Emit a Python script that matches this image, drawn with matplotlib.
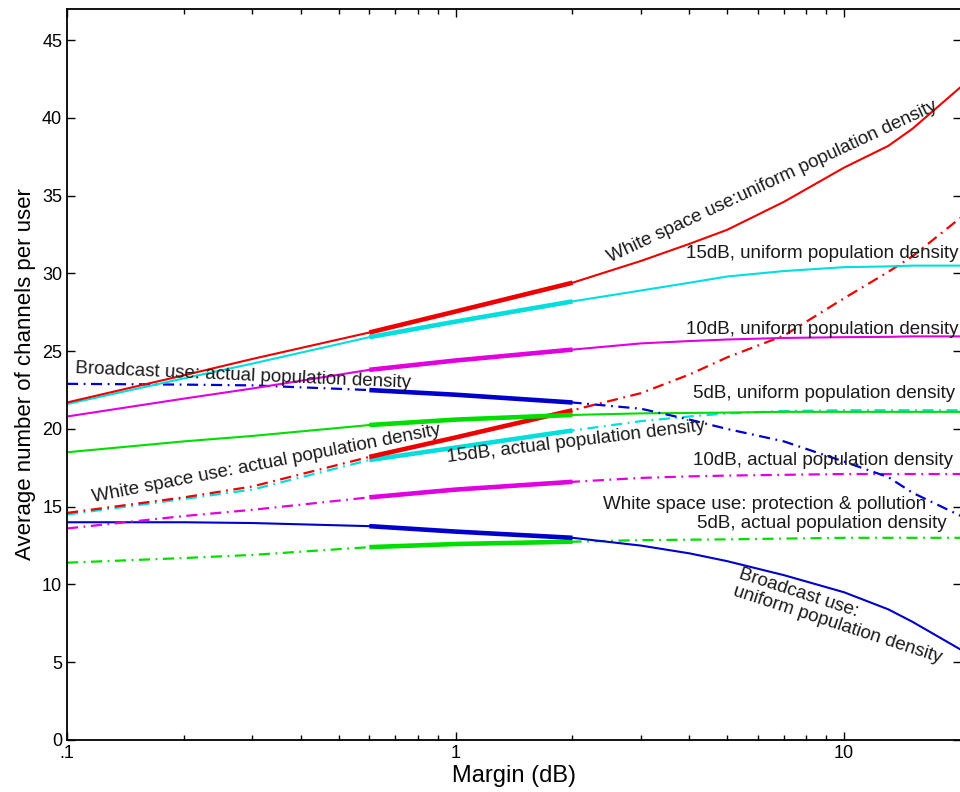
import numpy as np
import matplotlib
matplotlib.use("Agg")
import matplotlib.pyplot as plt
from matplotlib.ticker import FixedLocator, FixedFormatter, NullFormatter

plt.rcParams['font.family'] = ['Liberation Sans', 'DejaVu Sans']

# ---- data ----
margin = [0.1, 0.2, 0.3, 0.6, 1, 2, 3, 4, 5, 7, 10, 13, 15, 20]

ws_uniform      = [21.7, 23.45, 24.5, 26.2, 27.55, 29.4, 30.8, 31.9, 32.8, 34.6, 36.8, 38.2, 39.3, 42.0]
db15_uniform    = [21.6, 23.25, 24.2, 25.9, 26.9, 28.2, 28.9, 29.4, 29.8, 30.15, 30.4, 30.45, 30.5, 30.5]
db10_uniform    = [20.8, 21.95, 22.6, 23.8, 24.4, 25.1, 25.5, 25.65, 25.75, 25.85, 25.9, 25.92, 25.95, 25.95]
db5_uniform     = [18.5, 19.2, 19.55, 20.25, 20.6, 20.9, 21.0, 21.03, 21.05, 21.1, 21.1, 21.1, 21.1, 21.1]
bc_actual       = [22.9, 22.85, 22.8, 22.5, 22.2, 21.7, 21.3, 20.6, 20.0, 19.2, 17.9, 16.9, 15.9, 14.4]
ws_actual       = [14.6, 15.6, 16.3, 18.2, 19.45, 21.2, 22.3, 23.5, 24.6, 26.0, 28.4, 30.1, 31.1, 33.6]
db15_actual     = [14.5, 15.5, 16.1, 18.0, 18.8, 19.9, 20.5, 20.8, 21.0, 21.15, 21.2, 21.2, 21.2, 21.2]
db10_actual     = [13.6, 14.4, 14.8, 15.6, 16.1, 16.6, 16.85, 16.95, 17.0, 17.05, 17.1, 17.1, 17.1, 17.1]
bc_uniform      = [14.0, 14.0, 13.95, 13.75, 13.4, 13.0, 12.5, 12.0, 11.5, 10.6, 9.5, 8.4, 7.6, 5.8]
db5_actual      = [11.4, 11.7, 11.9, 12.4, 12.6, 12.75, 12.85, 12.88, 12.9, 12.95, 13.0, 13.0, 13.0, 13.0]

x_ticks = [0.1, 1, 10]
x_ticklabels = ['.1', '1', '10']
y_ticks = [0, 5, 10, 15, 20, 25, 30, 35, 40, 45]

RED, CYAN, MAG, GREEN, BLUE = '#ee0000', '#00dede', '#e000e0', '#00dd00', '#0000cc'

series = [
    (db5_actual,   GREEN, 'dd'),
    (bc_uniform,   BLUE,  'solid'),
    (db10_actual,  MAG,   'dd'),
    (db15_actual,  CYAN,  'dd'),
    (ws_actual,    RED,   'dd'),
    (db5_uniform,  GREEN, 'solid'),
    (bc_actual,    BLUE,  'dd'),
    (db10_uniform, MAG,   'solid'),
    (db15_uniform, CYAN,  'solid'),
    (ws_uniform,   RED,   'solid'),
]

fig = plt.figure(figsize=(9.6, 7.92), dpi=100)
ax = fig.add_axes([67/960, 52/792, 894/960, 731/792])

x = np.array(margin)
thick = (x >= 0.6) & (x <= 2)
for ys, col, sty in series:
    ys = np.array(ys)
    if sty == 'solid':
        ax.plot(x, ys, color=col, lw=1.5, solid_capstyle='butt')
    else:
        ax.plot(x, ys, color=col, lw=1.6, linestyle=(0, (5, 2.5, 0.8, 2.5)))
    ax.plot(x[thick], ys[thick], color=col, lw=3.3, solid_capstyle='butt')

ax.set_xscale('log')
ax.set_xlim(0.1, 20)
ax.set_ylim(0, 47)
ax.xaxis.set_major_locator(FixedLocator(x_ticks))
ax.xaxis.set_major_formatter(FixedFormatter(x_ticklabels))
ax.xaxis.set_minor_formatter(NullFormatter())
ax.set_yticks(y_ticks)
ax.tick_params(which='both', direction='in', top=True, right=True, labelsize=13, width=1.0)
ax.tick_params(which='major', length=6)
ax.tick_params(which='minor', length=3.5)
for s in ax.spines.values():
    s.set_linewidth(1.3)

ax.set_xlabel('Margin (dB)', fontsize=17, labelpad=2)
ax.set_ylabel('Average number of channels per user', fontsize=16, labelpad=4)

fs = 13.5
tc = '#1a1a1a'
ax.text(6.53, 35.9, 'White space use:uniform population density', rotation=25,
        ha='center', va='center', rotation_mode='anchor', fontsize=fs, color=tc)
ax.text(3.92, 31.3, '15dB, uniform population density', ha='left', va='center', fontsize=fs, color=tc)
ax.text(3.92, 26.4, '10dB, uniform population density', ha='left', va='center', fontsize=fs, color=tc)
ax.text(4.08, 22.25, '5dB, uniform population density', ha='left', va='center', fontsize=fs, color=tc)
ax.text(4.08, 17.94, '10dB, actual population density', ha='left', va='center', fontsize=fs, color=tc)
ax.text(2.40, 15.11, 'White space use: protection & pollution', ha='left', va='center', fontsize=fs, color=tc)
ax.text(4.18, 13.95, '5dB, actual population density', ha='left', va='center', fontsize=fs, color=tc)
ax.text(0.1048, 23.6, 'Broadcast use: actual population density', rotation=-2.5,
        ha='left', va='baseline', rotation_mode='anchor', fontsize=fs, color=tc)
ax.text(0.1167, 15.3, 'White space use: actual population density', rotation=11,
        ha='left', va='baseline', rotation_mode='anchor', fontsize=fs, color=tc)
ax.text(0.956, 17.87, '15dB, actual population density', rotation=7,
        ha='left', va='baseline', rotation_mode='anchor', fontsize=fs, color=tc)
ax.text(5.46, 11.19, 'Broadcast use:\nuniform population density', rotation=-18,
        ha='left', va='top', rotation_mode='anchor', fontsize=fs, color=tc, linespacing=1.05)

fig.savefig('out.png', dpi=100)
